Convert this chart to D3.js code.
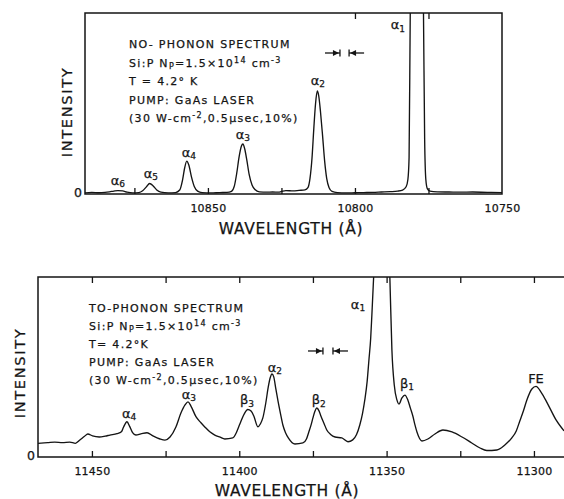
<!DOCTYPE html>
<html><head><meta charset="utf-8">
<script src="https://cdn.jsdelivr.net/npm/d3@7"></script>
<style>
body{margin:0;background:#fff}
svg{display:block}
text{font-family:"DejaVu Sans","Liberation Sans",Arial,sans-serif;fill:#141414;stroke:#141414;stroke-width:0.25px}
</style>
</head><body>
<svg id="c" width="564" height="499"></svg>
<script>
// ---------- DATA ----------
// Top panel: no-phonon spectrum (wavelength in Å, intensity in arbitrary units, 0..100 = frame height)
const topWavelength = [10891.8,10889.5,10887.0,10885.0,10883.5,10882.0,10880.6,10879.0,10877.5,10875.5,10873.5,10872.2,10871.0,10869.8,10868.6,10867.4,10866.0,10863.5,10861.0,10859.6,10858.6,10857.9,10857.2,10856.5,10855.6,10854.6,10853.5,10852.0,10849.0,10846.0,10843.5,10842.0,10841.0,10840.2,10839.4,10838.6,10838.1,10837.5,10836.8,10836.0,10835.0,10834.0,10832.5,10830.0,10828.0,10826.0,10825.0,10823.5,10821.0,10819.0,10817.0,10816.0,10815.3,10814.6,10814.0,10813.4,10812.8,10812.3,10811.7,10811.0,10810.3,10809.6,10808.8,10807.8,10806.0,10803.0,10800.0,10797.0,10794.0,10791.0,10788.0,10785.5,10783.8,10782.6,10782.0,10781.6,10781.2,10780.5,10779.0,10777.5,10776.7,10776.3,10775.9,10775.4,10774.5,10772.0,10768.0,10764.0,10760.0,10755.0,10750.0];
const topIntensity  = [0.6,0.9,0.7,0.9,1.2,1.6,1.9,1.7,1.0,0.6,0.8,1.8,3.8,5.8,4.4,2.2,1.0,0.6,0.8,2.2,8.0,14.5,18.2,16.0,9.5,4.0,1.6,0.8,0.6,0.8,0.9,1.5,4.5,11.5,20.5,26.5,27.6,25.0,19.0,11.0,5.0,2.5,1.2,1.0,1.1,1.0,1.4,1.9,1.7,2.0,2.3,3.5,8.5,20.0,36.0,50.0,56.9,54.0,45.0,32.0,18.0,8.5,3.5,1.5,0.8,0.6,0.7,0.8,0.9,1.1,1.3,1.6,2.2,4.0,8.0,20.0,100,170,250,170,100,30,8,3,1.6,1.2,1.1,1.0,1.1,0.9,0.8];

// Bottom panel: TO-phonon spectrum
const botWavelength = [11468.3,11465.0,11462.6,11460.0,11457.5,11455.6,11454.1,11452.5,11451.4,11449.8,11447.5,11445.5,11443.9,11441.5,11440.0,11439.3,11438.1,11437.2,11436.2,11435.1,11433.4,11431.3,11429.3,11426.9,11425.2,11423.5,11421.5,11419.8,11418.4,11417.4,11416.4,11414.7,11413.0,11411.7,11410.0,11408.3,11406.5,11404.9,11402.2,11401.0,11399.8,11398.3,11397.1,11396.0,11395.0,11393.7,11392.8,11392.0,11391.0,11390.2,11389.5,11388.9,11388.3,11387.6,11386.8,11386.0,11385.2,11384.3,11383.3,11381.1,11378.4,11377.2,11376.4,11375.6,11375.0,11374.3,11373.7,11372.9,11372.3,11371.2,11370.3,11369.0,11367.5,11365.2,11363.1,11361.5,11360.2,11359.1,11358.2,11357.4,11356.6,11356.0,11355.4,11355.0,11354.4,11353.0,11351.6,11350.2,11348.9,11348.2,11347.4,11346.5,11345.8,11344.8,11343.8,11342.8,11341.9,11341.1,11340.4,11339.7,11338.0,11336.0,11333.6,11330.9,11327.8,11324.4,11321.1,11318.3,11316.0,11312.6,11309.9,11307.5,11306.0,11304.8,11303.5,11302.4,11300.7,11299.3,11297.6,11295.3,11292.5,11289.8];
const botIntensity  = [7.6,8.0,8.3,8.0,8.3,7.6,9.4,11.5,12.8,11.7,11.1,11.6,12.2,13.0,14.0,16.5,19.6,17.0,13.5,12.2,12.8,13.5,11.7,10.0,9.4,11.1,16.7,24.4,28.9,30.6,28.3,22.4,19.0,16.7,14.0,12.2,11.0,10.0,10.6,13.5,18.3,24.0,26.4,25.5,22.5,16.8,18.5,21.7,30.0,38.5,44.0,46.1,44.5,38.0,30.6,24.0,17.8,13.5,10.5,7.2,7.8,10.0,13.9,18.0,21.7,25.5,27.2,25.5,22.8,18.5,15.0,12.5,11.1,10.6,8.5,9.5,12.5,17.8,24.0,31.7,42.0,53.9,66.0,78.9,100,160,200,160,100,59.4,40.0,31.7,29.4,32.8,34.4,31.7,27.0,22.8,18.0,13.9,8.9,10.0,12.8,15.0,13.9,11.1,7.8,5.0,3.6,3.9,6.7,10.6,14.5,20.0,26.0,31.7,37.8,39.2,36.1,29.4,20.6,14.5];

// Tick values / labels
const topTickLabels   = [10850, 10800, 10750];
const topTickMarks    = [10875, 10850, 10825, 10800, 10775];
const topTopTickMarks = [10800, 10775];
const botTickLabels   = [11450, 11400, 11350, 11300];
const botTickMarks    = [11450, 11425, 11400, 11375, 11350, 11325, 11300];

// Peak labels: symbol, subscript, wavelength, intensity (label centre)
const topPeakNames = ["α","α","α","α","α","α"];
const topPeakSubs  = ["6","5","4","3","2","1"];
const topPeakWl    = [10880.6,10869.4,10856.5,10838.1,10812.6,10785.4];
const topPeakI     = [7.7,11.6,23.2,33.1,63.0,93.4];

const botPeakNames = ["α","α","β","α","β","α","β","FE"];
const botPeakSubs  = ["4","3","3","2","2","1","1",""];
const botPeakWl    = [11437.4,11417.1,11397.4,11387.9,11373.0,11359.7,11343.1,11299.3];
const botPeakI     = [24.4,35.0,31.7,50.0,31.7,85.0,41.1,43.9];

// Resolution marker (→| |←): positions of the two bars, and level
const topResBars = [10805.1, 10802.0]; const topResI = 77.9;
const botResBars = [11371.6, 11368.2]; const botResI = 58.9;

// Annotation text
const topTitle = "NO- PHONON SPECTRUM";
const botTitle = "TO-PHONON SPECTRUM";

// ---------- DRAW ----------
const svg = d3.select("#c");
const ink = "#141414";

function panel(cfg){
  const g = svg.append("g");
  const x = d3.scaleLinear().domain(cfg.xDomain).range(cfg.xRange);
  const y = d3.scaleLinear().domain([0,100]).range(cfg.yRange);
  const [x0,x1] = cfg.xRange, [yb,yt] = cfg.yRange;
  const clipId = "clip"+cfg.id;
  svg.append("clipPath").attr("id",clipId).append("rect")
     .attr("x",x0).attr("y",yt).attr("width",x1-x0).attr("height",yb-yt);

  // curve
  const pts = cfg.wl.map((w,i)=>[w,cfg.int[i]]);
  g.append("path").datum(pts).attr("clip-path",`url(#${clipId})`)
    .attr("fill","none").attr("stroke",ink).attr("stroke-width",1.35).attr("stroke-linejoin","round")
    .attr("d", d3.line().x(d=>x(d[0])).y(d=>y(d[1])).curve(d3.curveMonotoneX));

  // ticks (inward) bottom and top
  const axB = g.append("g").attr("transform",`translate(0,${yb})`)
    .call(d3.axisBottom(x).tickValues(cfg.tickMarks).tickSize(-6).tickFormat(""));
  const axT = g.append("g").attr("transform",`translate(0,${yt})`)
    .call(d3.axisTop(x).tickValues(cfg.topTickMarks).tickSize(-6).tickFormat(""));
  [axB,axT].forEach(a=>{a.select(".domain").remove(); a.selectAll("line").attr("stroke",ink).attr("stroke-width",1.3);});

  // tick labels
  const axL = g.append("g").attr("transform",`translate(0,${yb})`)
    .call(d3.axisBottom(x).tickValues(cfg.tickLabels).tickSize(0).tickPadding(10).tickFormat(d3.format("d")));
  axL.select(".domain").remove();
  axL.selectAll("text").attr("font-size",11).attr("letter-spacing",0.2)
     .style("font-family","DejaVu Sans").attr("fill",ink);

  // y "0"
  g.append("text").attr("x",x0-3).attr("y",y(0)-1).attr("dy","0.35em")
    .attr("text-anchor","end").attr("font-size",12.5).text("0");

  // frame
  const fr = g.append("path").attr("fill","none").attr("stroke",ink).attr("stroke-width",1.5);
  if(cfg.closed) fr.attr("d",`M${x0},${yt}H${x1}V${yb}H${x0}Z`);
  else fr.attr("d",`M${x1+5},${yt}H${x0}V${yb}H${x1+5}`);

  // axis titles
  g.append("text").attr("x",cfg.xTitle[0]).attr("y",cfg.xTitle[1]).attr("text-anchor","middle")
    .attr("font-size",15.5).attr("letter-spacing",0.7).text("WAVELENGTH (Å)");
  g.append("text").attr("transform",`translate(${cfg.yTitle[0]},${cfg.yTitle[1]}) rotate(-90)`)
    .attr("text-anchor","middle").attr("font-size",14.5).attr("letter-spacing",1.7).text("INTENSITY");

  // peak labels
  cfg.pn.forEach((n,i)=>{
    const t = g.append("text").attr("x",x(cfg.pw[i])).attr("y",y(cfg.pi[i])).attr("dy","0.35em")
      .attr("text-anchor","middle").attr("font-size",13);
    t.append("tspan").text(n);
    if(cfg.ps[i]) t.append("tspan").attr("font-size",9).attr("dy","0.25em").text(cfg.ps[i]);
  });

  // resolution marker
  const ry = y(cfg.resI);
  const bL = x(cfg.resBars[0]), bR = x(cfg.resBars[1]);
  const m = g.append("g").attr("stroke",ink).attr("fill",ink).attr("stroke-width",1.3);
  m.append("line").attr("x1",bL-15).attr("x2",bL).attr("y1",ry).attr("y2",ry);
  m.append("line").attr("x1",bL).attr("x2",bL).attr("y1",ry-3.5).attr("y2",ry+3.5);
  m.append("path").attr("stroke","none").attr("d",`M${bL-1},${ry}L${bL-7},${ry-3}L${bL-7},${ry+3}Z`);
  m.append("line").attr("x1",bR).attr("x2",bR+15).attr("y1",ry).attr("y2",ry);
  m.append("line").attr("x1",bR).attr("x2",bR).attr("y1",ry-3.5).attr("y2",ry+3.5);
  m.append("path").attr("stroke","none").attr("d",`M${bR+1},${ry}L${bR+7},${ry-3}L${bR+7},${ry+3}Z`);

  // annotation block
  const ax = cfg.note[0], ay = cfg.note[1], lh = cfg.note[2];
  const fs = 11, ls = 1.3, small = 8;
  const line = (k)=> g.append("text").attr("x",ax).attr("y",ay+k*lh).attr("font-size",fs).attr("letter-spacing",ls);
  line(0).text(cfg.title);
  let t = line(1);
  t.append("tspan").text("Si:P  N");
  t.append("tspan").attr("font-size",small).attr("dy",2).text("P");
  t.append("tspan").attr("dy",-2).text("=1.5×10");
  t.append("tspan").attr("font-size",small).attr("dy",-4).text("14");
  t.append("tspan").attr("dy",4).text(" cm");
  t.append("tspan").attr("font-size",small).attr("dy",-4).text("-3");
  line(2).text(cfg.temp);
  line(3).text("PUMP: GaAs LASER");
  t = line(4);
  t.append("tspan").text("(30 W-cm");
  t.append("tspan").attr("font-size",small).attr("dy",-4).text("-2");
  t.append("tspan").attr("dy",4).text(",0.5μsec,10%)");
}

panel({id:"top", xDomain:[10891.8,10750], xRange:[85,502], yRange:[194,13],
  wl:topWavelength, int:topIntensity, tickMarks:topTickMarks, topTickMarks:topTopTickMarks, tickLabels:topTickLabels,
  closed:true, xTitle:[291,234], yTitle:[72,112],
  pn:topPeakNames, ps:topPeakSubs, pw:topPeakWl, pi:topPeakI,
  resBars:topResBars, resI:topResI, note:[129,48,18.5], title:topTitle, temp:"T = 4.2° K"});

panel({id:"bot", xDomain:[11468.3,11289.8], xRange:[38,564], yRange:[457,277],
  wl:botWavelength, int:botIntensity, tickMarks:botTickMarks, topTickMarks:botTickMarks, tickLabels:botTickLabels,
  closed:false, xTitle:[287,496], yTitle:[25,373],
  pn:botPeakNames, ps:botPeakSubs, pw:botPeakWl, pi:botPeakI,
  resBars:botResBars, resI:botResI, note:[89,312,18], title:botTitle, temp:"T= 4.2°K"});
</script>
</body></html>
